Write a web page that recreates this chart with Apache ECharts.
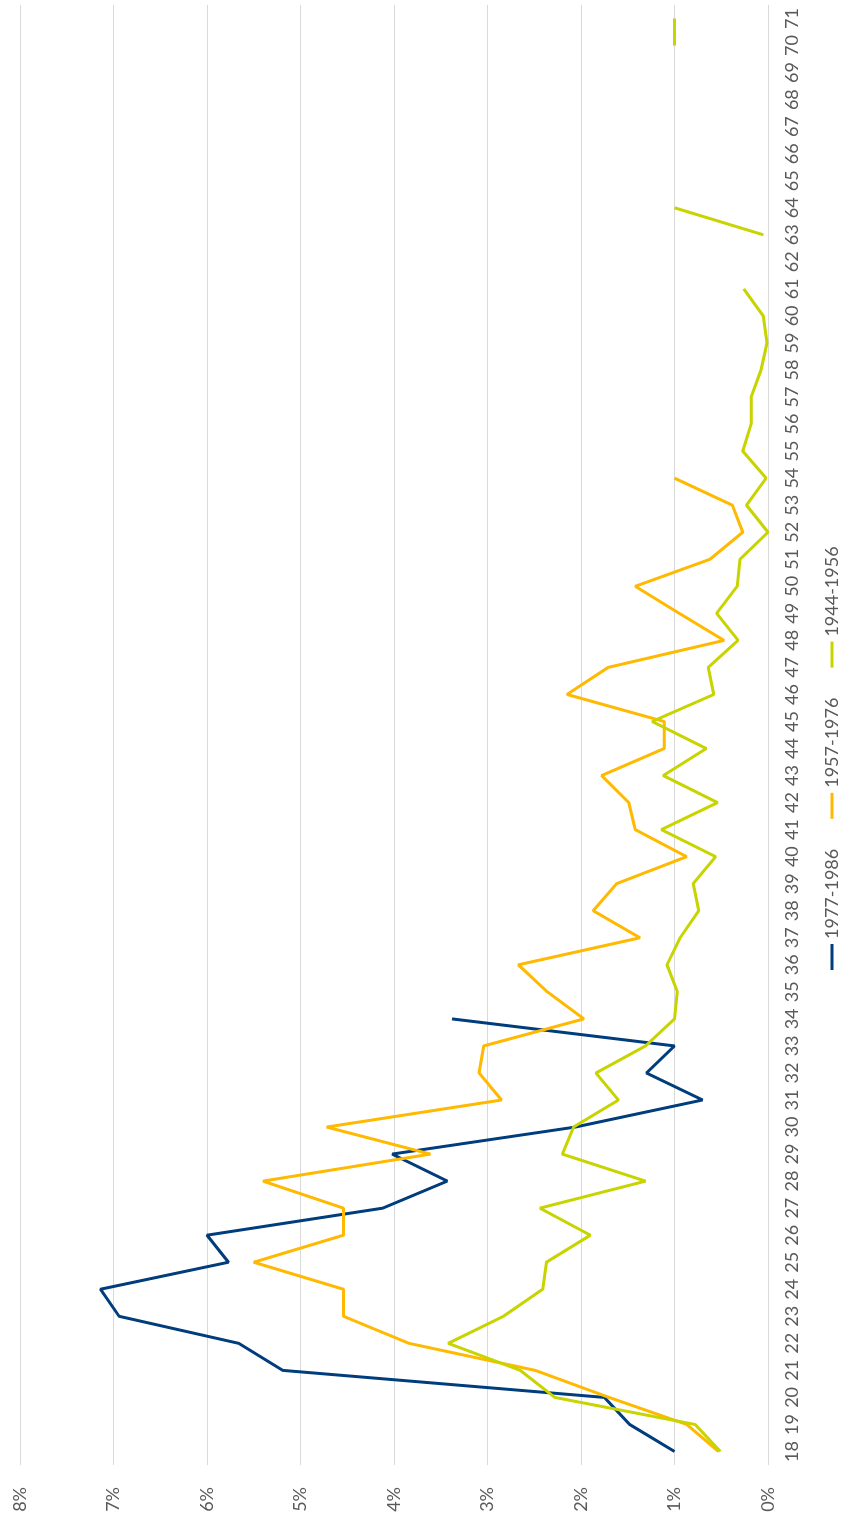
<!DOCTYPE html>
<html>
<head>
<meta charset="utf-8">
<script src="https://cdn.jsdelivr.net/npm/echarts@6/dist/echarts.min.js"></script>
<style>
html,body{margin:0;padding:0;background:#fff;overflow:hidden;width:844px;height:1524px;}
#chart{position:absolute;left:0;top:0;width:1524px;height:844px;transform-origin:0 0;transform:translateY(1524px) rotate(-90deg);}
</style>
</head>
<body>
<div id="chart"></div>
<script>
// Ages (categories)
const categories = [];
for (let a = 18; a <= 71; a++) categories.push(String(a));

const valueTicks = [0,1,2,3,4,5,6,7,8];

// Percent values, ages 18..71 (null = no data)
const s1977_1986 = [1.0,1.48,1.75,5.19,5.66,6.94,7.14,5.77,6.0,4.12,3.43,4.02,2.06,0.7,1.3,1.0,3.38,
  null,null,null,null,null,null,null,null,null,null,null,null,null,null,null,null,null,null,null,null,null,null,null,null,null,null,null,null,null,null,null,null,null,null,null,null,null];

const s1957_1976 = [0.53,0.87,1.7,2.49,3.84,4.54,4.54,5.5,4.54,4.54,5.4,3.61,4.72,2.85,3.09,3.04,1.97,2.36,2.67,1.37,1.87,1.62,0.87,1.42,1.49,1.78,1.11,1.11,2.15,1.71,0.47,0.95,1.42,0.62,0.27,0.38,1.0,
  null,null,null,null,null,null,null,null,null,null,null,null,null,null,null,null,null];

const s1944_1956 = [0.51,0.78,2.28,2.65,3.42,2.83,2.41,2.37,1.9,2.44,1.31,2.2,2.08,1.6,1.84,1.31,1.0,0.97,1.08,0.94,0.74,0.8,0.56,1.14,0.54,1.12,0.66,1.24,0.58,0.64,0.32,0.55,0.33,0.3,0.0,0.23,0.02,0.27,0.18,0.18,0.075,0.01,0.05,0.26,
  null,0.05,1.0,null,null,null,null,null,1.0,1.0];

const seriesNames = ['1977-1986','1957-1976','1944-1956'];
const colors = ['#003d7c','#ffb900','#c8d400'];
const FONT = 'Lato, "Liberation Sans", sans-serif';

const chart = echarts.init(document.getElementById('chart'), null, {renderer:'canvas'});
chart.setOption({
  animation:false,
  backgroundColor:'#fff',
  color:colors,
  textStyle:{fontFamily:FONT},
  grid:{left:59,right:5,top:20,bottom:76,containLabel:false},
  legend:{
    left:549, top:818,
    icon:'rect', itemWidth:26, itemHeight:3, itemGap:30,
    textStyle:{fontSize:18,color:'#595959',fontFamily:FONT},
    data:seriesNames
  },
  xAxis:{
    type:'category', data:categories, boundaryGap:true,
    axisLine:{show:false}, axisTick:{show:false},
    axisLabel:{fontSize:18,color:'#595959',margin:15,interval:0,fontFamily:FONT}
  },
  yAxis:{
    type:'value', min:valueTicks[0], max:valueTicks[valueTicks.length-1], interval:1,
    axisLine:{show:false}, axisTick:{show:false},
    splitLine:{lineStyle:{color:'#d9d9d9',width:1}},
    axisLabel:{fontSize:18,color:'#595959',margin:22,formatter:'{value}%',fontFamily:FONT}
  },
  series:[
    {name:seriesNames[0],type:'line',data:s1977_1986,showSymbol:false,symbol:'none',connectNulls:false,lineStyle:{width:3,color:colors[0]},itemStyle:{color:colors[0]}},
    {name:seriesNames[1],type:'line',data:s1957_1976,showSymbol:false,symbol:'none',connectNulls:false,lineStyle:{width:3,color:colors[1]},itemStyle:{color:colors[1]}},
    {name:seriesNames[2],type:'line',data:s1944_1956,showSymbol:false,symbol:'none',connectNulls:false,lineStyle:{width:3,color:colors[2]},itemStyle:{color:colors[2]}}
  ]
});
</script>
</body>
</html>
